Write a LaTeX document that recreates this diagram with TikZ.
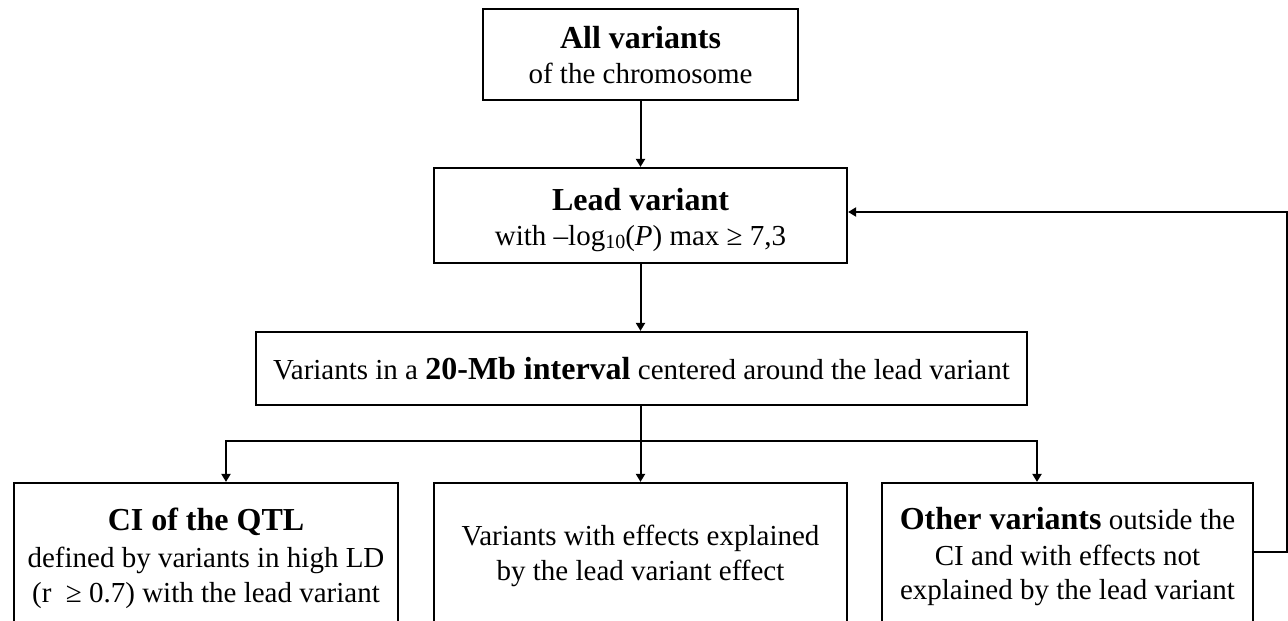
\documentclass[tikz,border=0pt]{standalone}
\usepackage{fontspec}
\setmainfont{Liberation Serif}
\usetikzlibrary{arrows.meta}
\tikzset{
  box/.style={draw=black, line width=2.2pt, fill=white, inner sep=0pt},
  conn/.style={draw=black, line width=2pt},
  arr/.style={conn, -{Triangle[length=8pt,width=9pt]}},
  txt/.style={anchor=base, inner sep=0pt},
  body/.style={font=\fontsize{29}{33}\selectfont},
  ttl/.style={font=\fontsize{32}{36}\selectfont\bfseries}
}
\begin{document}
\begin{tikzpicture}[x=1pt,y=-1pt]
\useasboundingbox (0,0) rectangle (1288,621);
\fill[white] (0,0) rectangle (1288,621);
\begin{scope}
\clip (0,0) rectangle (1288,621);
% boxes
\node[box, minimum width=315pt, minimum height=91pt] (all) at (640.5,54.5) {};
\node[box, minimum width=413pt, minimum height=95pt] (lead) at (640.5,215.5) {};
\node[box, minimum width=771pt, minimum height=73pt] (interval) at (641.5,368.5) {};
\node[box, minimum width=384pt, minimum height=160pt] (ci) at (206,563) {};
\node[box, minimum width=413pt, minimum height=160pt] (expl) at (640.5,563) {};
\node[box, minimum width=371pt, minimum height=160pt] (other) at (1067.5,563) {};

% texts
\node[txt, ttl] (t1a) at (640.5,48) {All variants};
\node[txt, body] (t1b) at (640.5,83) {of the chromosome};
\node[txt, ttl] (t2a) at (640.5,210) {Lead variant};
\node[txt, body] (t2b) at (640.5,245) {with –log\raisebox{-0.28ex}{\fontsize{20}{20}\selectfont 10}(\textit{P}) max ≥ 7,3};
\node[txt, body] (t3) at (641.5,379) {Variants in a {\fontsize{32}{36}\selectfont\bfseries 20-Mb interval} centered around the lead variant};
\node[txt, ttl] (t4a) at (206,530) {CI of the QTL};
\node[txt, body] (t4b) at (206,567) {defined by variants in high LD};
\node[txt, body] (t4c) at (206,602) {(r \ ≥ 0.7) with the lead variant};
\node[txt, body] (t5a) at (640.5,545) {Variants with effects explained};
\node[txt, body] (t5b) at (640.5,580) {by the lead variant effect};
\node[txt, body] (t6a) at (1067.5,529) {{\fontsize{32}{36}\selectfont\bfseries Other variants} outside the};
\node[txt, body] (t6b) at (1067.5,565) {CI and with effects not};
\node[txt, body] (t6c) at (1067.5,599) {explained by the lead variant};

% connectors
\draw[arr] (all.south) -- (lead.north);
\draw[arr] (lead.south) -- (lead.south |- interval.north);
\coordinate (br) at (640.5,441);
\draw[conn] (lead.south |- interval.south) -- (br);
\draw[arr] (br) -| ([xshift=20pt]ci.north);
\draw[arr] (br) -- (br |- expl.north);
\draw[arr] (br) -| ([xshift=-30.5pt]other.north);
\coordinate (fb1) at (1287,552);
\coordinate (fb2) at (1287,212);
\draw[arr] (other.east |- fb1) -- (fb1) -- (fb2) -- (lead.east |- fb2);
\end{scope}
\end{tikzpicture}
\end{document}
